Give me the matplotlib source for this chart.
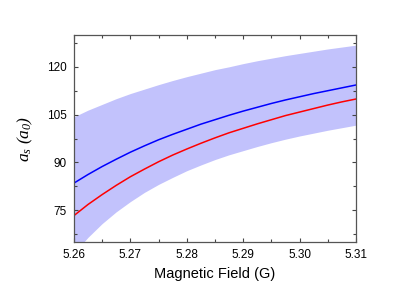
import matplotlib
matplotlib.use("Agg")
import matplotlib.pyplot as plt
from matplotlib.ticker import MultipleLocator, FormatStrFormatter

# values
field = [5.2600, 5.2625, 5.2650, 5.2675, 5.2700, 5.2725, 5.2750, 5.2775,
         5.2800, 5.2825, 5.2850, 5.2875, 5.2900, 5.2925, 5.2950, 5.2975,
         5.3000, 5.3025, 5.3050, 5.3075, 5.3100]
a_blue = [83.5, 86.2, 88.7, 91.0, 93.2, 95.2, 97.1, 98.8, 100.4, 102.0, 103.4,
          104.8, 106.1, 107.3, 108.5, 109.6, 110.6, 111.6, 112.5, 113.4, 114.3]
a_red = [73.3, 76.8, 79.9, 82.8, 85.5, 87.9, 90.2, 92.3, 94.2, 96.0, 97.7,
         99.3, 100.7, 102.1, 103.4, 104.7, 105.8, 106.9, 108.0, 109.0, 109.9]
band_upper = [104.3, 106.4, 108.2, 110.0, 111.6, 113.0, 114.4, 115.7, 116.9,
              118.0, 119.1, 120.0, 121.0, 121.9, 122.7, 123.5, 124.2, 124.9,
              125.6, 126.2, 126.8]
band_lower = [61.5, 66.5, 70.8, 74.5, 77.7, 80.6, 83.1, 85.3, 87.4, 89.2, 90.9,
              92.4, 93.7, 95.0, 96.2, 97.3, 98.3, 99.2, 100.1, 100.9, 101.7]

plt.rcParams['font.family'] = ['Liberation Sans', 'DejaVu Sans']
plt.rcParams['mathtext.fontset'] = 'custom'
plt.rcParams['mathtext.it'] = 'Liberation Serif:italic'
plt.rcParams['mathtext.rm'] = 'Liberation Serif:italic'

fig = plt.figure(figsize=(4.15, 2.91), dpi=100)
ax = fig.add_axes([0.178, 0.168, 0.680, 0.712])

ax.fill_between(field, band_lower, band_upper, color='#c2c2fc', lw=0)
ax.plot(field, a_blue, color='#0000ff', lw=1.1)
ax.plot(field, a_red, color='#ff0000', lw=1.1)

ax.set_xlim(5.26, 5.31)
ax.set_ylim(65, 130)
ax.xaxis.set_major_locator(MultipleLocator(0.01))
ax.xaxis.set_minor_locator(MultipleLocator(0.005))
ax.yaxis.set_major_locator(MultipleLocator(15))
ax.yaxis.set_minor_locator(MultipleLocator(7.5))
ax.xaxis.set_major_formatter(FormatStrFormatter('%.2f'))

ax.tick_params(which='both', direction='in', top=True, right=True,
               color='#444444', labelsize=8.5, pad=5)
ax.tick_params(which='major', length=3, width=0.8)
ax.tick_params(which='minor', length=2, width=0.8)
for s in ax.spines.values():
    s.set_color('#555555')
    s.set_linewidth(0.9)

ax.set_xlabel("Magnetic Field (G)", fontsize=10.5, labelpad=4)
ax.set_ylabel(r"$a_s\ (a_0)$", fontsize=12.5, labelpad=9)

fig.savefig("out.png", dpi=100)
